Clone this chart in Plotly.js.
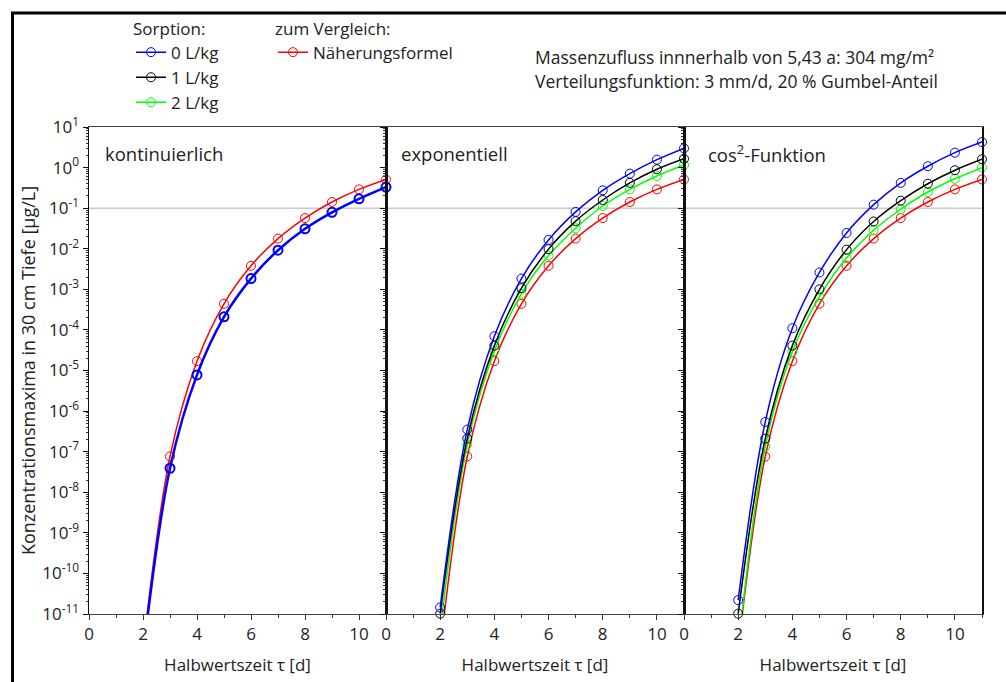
<!DOCTYPE html>
<html>
<head>
<meta charset="utf-8">
<script src="https://cdn.plot.ly/plotly-3.0.1.min.js"></script>
<style>html,body{margin:0;padding:0;background:#fff;}#chart{width:1006px;height:682px;}</style>
</head>
<body>
<div id="chart"></div>
<script>
// ---- data ----
var tau = [2, 3, 4, 5, 6, 7, 8, 9, 10, 11];
// Näherungsformel (same in every panel)
var naeherung = [1.3e-12, 7.6e-8, 1.7e-5, 4.4e-4, 3.8e-3, 0.0178, 0.057, 0.142, 0.29, 0.51];
// kontinuierlich (all sorption values coincide)
var kontSorption = [1.0e-12, 3.9e-8, 7.8e-6, 2.1e-4, 1.84e-3, 9.2e-3, 0.031, 0.079, 0.17, 0.33];
// exponentiell
var expS0 = [1.45e-11, 3.5e-7, 7.0e-5, 1.84e-3, 0.0165, 0.081, 0.275, 0.71, 1.57, 2.98];
var expS1 = [1.02e-11, 2.1e-7, 4.1e-5, 1.07e-3, 9.8e-3, 0.048, 0.159, 0.42, 0.91, 1.65];
var expS2 = [4.0e-12, 1.5e-7, 3.0e-5, 7.8e-4, 6.8e-3, 0.032, 0.113, 0.29, 0.62, 1.16];
// cos²-Funktion
var cosS0 = [2.2e-11, 5.4e-7, 1.1e-4, 2.6e-3, 0.0245, 0.122, 0.42, 1.08, 2.33, 4.26];
var cosS1 = [1.02e-11, 2.1e-7, 4.1e-5, 1.0e-3, 9.5e-3, 0.047, 0.153, 0.40, 0.86, 1.6];
var cosS2 = [1.4e-12, 1.35e-7, 2.9e-5, 6.6e-4, 5.9e-3, 0.0285, 0.094, 0.25, 0.53, 1.0];

var seriesNames = ['0 L/kg', '1 L/kg', '2 L/kg', 'Näherungsformel'];
var panelTitles = ['kontinuierlich', 'exponentiell', 'cos<sup>2</sup>-Funktion'];
var xTickVals = [0, 2, 4, 6, 8, 10];
var xTickText = ['0', '2', '4', '6', '8', '10'];
var yTickVals = [1e1, 1e0, 1e-1, 1e-2, 1e-3, 1e-4, 1e-5, 1e-6, 1e-7, 1e-8, 1e-9, 1e-10, 1e-11];
var yTickText = ['10<sup>1</sup>', '10<sup>0</sup>', '10<sup>-1</sup>', '10<sup>-2</sup>', '10<sup>-3</sup>',
  '10<sup>-4</sup>', '10<sup>-5</sup>', '10<sup>-6</sup>', '10<sup>-7</sup>', '10<sup>-8</sup>',
  '10<sup>-9</sup>', '10<sup>-10</sup>', '10<sup>-11</sup>'];
var xTitle = 'Halbwertszeit τ [d]';
var yTitle = 'Konzentrationsmaxima in 30 cm Tiefe [µg/L]';
var infoLines = ['Massenzufluss innnerhalb von 5,43 a: 304 mg/m²', 'Verteilungsfunktion: 3 mm/d, 20 % Gumbel-Anteil'];

// ---- styling ----
var FONT = 'Open Sans, Noto Sans, sans-serif';
var TXT = '#222';
var colors = {s0: '#0000ff', s1: '#000000', s2: '#00ff00', ref: '#ff0000'};

function tr(y, color, xa, ya, opts) {
  opts = opts || {};
  return {
    x: tau, y: y, xaxis: xa, yaxis: ya, type: 'scatter', mode: 'lines+markers',
    line: {color: color, width: opts.lw || 1.5, shape: 'spline', smoothing: 1},
    marker: {symbol: 'circle-open', size: 9, color: color, line: {color: color, width: opts.mw || 1}},
    cliponaxis: false, hoverinfo: 'skip',
    name: opts.name || '', showlegend: !!opts.legend, legend: opts.legendId || 'legend',
    legendgroup: opts.group || undefined, legendrank: opts.rank || 1000
  };
}

var data = [
  // panel 1
  tr(naeherung, colors.ref, 'x', 'y'),
  tr(kontSorption, colors.s0, 'x', 'y', {lw: 2.5, mw: 2}),
  // panel 2
  tr(naeherung, colors.ref, 'x2', 'y2', {legend: true, legendId: 'legend2', name: seriesNames[3], group: 'g4', rank: 4}),
  tr(expS2, colors.s2, 'x2', 'y2', {legend: true, name: seriesNames[2], group: 'g3', rank: 3}),
  tr(expS1, colors.s1, 'x2', 'y2', {legend: true, name: seriesNames[1], group: 'g2', rank: 2}),
  tr(expS0, colors.s0, 'x2', 'y2', {legend: true, name: seriesNames[0], group: 'g1', rank: 1}),
  // panel 3
  tr(naeherung, colors.ref, 'x3', 'y3'),
  tr(cosS2, colors.s2, 'x3', 'y3'),
  tr(cosS1, colors.s1, 'x3', 'y3'),
  tr(cosS0, colors.s0, 'x3', 'y3')
];

// plot area: x 89..982, y 127..614
var L = 89, R = 982, T = 127, B = 614, W = 1006, H = 682;
function px(x) { return (x - L) / (R - L); }
function py(y) { return (B - y) / (B - T); }
var d1 = [0, px(386)], d2 = [px(386), px(684)], d3 = [px(684), 1];

function xax(dom, anchor) {
  return {
    domain: dom, anchor: anchor, range: [0, 11], tickmode: 'array', tickvals: xTickVals, ticktext: xTickText,
    ticks: 'outside', ticklen: 5, tickwidth: 1, tickcolor: '#333',
    minor: {tickmode: 'linear', tick0: 1, dtick: 2, ticks: 'outside', ticklen: 3, tickwidth: 1, tickcolor: '#333'},
    showline: true, linecolor: '#444', linewidth: 1, mirror: true, showgrid: false, zeroline: false,
    tickfont: {family: FONT, size: 17, color: TXT},
    title: {text: xTitle, font: {family: FONT, size: 17, color: TXT}, standoff: 14},
    fixedrange: true
  };
}
function yax(anchor, labels) {
  var a = {
    domain: [0, 1], anchor: anchor, type: 'log', range: [-11, 1], tickmode: 'array', tickvals: yTickVals, ticktext: yTickText,
    ticks: 'outside', ticklen: 5, tickwidth: 1, tickcolor: '#111',
    minor: {dtick: 'D1', ticks: 'outside', ticklen: 2, tickwidth: 1, tickcolor: '#333'},
    showline: true, linecolor: '#111', linewidth: 1.5, mirror: true, showgrid: false, zeroline: false,
    showticklabels: labels, tickfont: {family: FONT, size: 17, color: TXT}, fixedrange: true
  };
  if (labels) a.title = {text: yTitle, font: {family: FONT, size: 18, color: TXT}, standoff: 2};
  return a;
}

var annotations = [];
var lefts = [103, 399, 706];
for (var i = 0; i < 3; i++) {
  annotations.push({text: panelTitles[i], xref: 'paper', yref: 'paper', x: px(lefts[i]), y: py(153),
    xanchor: 'left', yanchor: 'middle', showarrow: false, font: {family: FONT, size: 18.5, color: TXT}});
}
annotations.push({text: infoLines[0], xref: 'paper', yref: 'paper', x: px(533), y: py(57), xanchor: 'left', yanchor: 'middle',
  showarrow: false, font: {family: FONT, size: 17.5, color: TXT}});
annotations.push({text: infoLines[1], xref: 'paper', yref: 'paper', x: px(533), y: py(81), xanchor: 'left', yanchor: 'middle',
  showarrow: false, font: {family: FONT, size: 17.5, color: TXT}});

var shapes = [
  // reference line at 0.1 µg/L
  {type: 'line', xref: 'paper', yref: 'y', x0: 0, x1: 1, y0: 0.1, y1: 0.1, line: {color: '#b0b0b0', width: 1}, layer: 'below'},
  // outer frame (left and top edges visible)
  {type: 'line', xref: 'paper', yref: 'paper', x0: px(12.5), x1: px(12.5), y0: py(12), y1: py(700), line: {color: '#000', width: 3}},
  {type: 'line', xref: 'paper', yref: 'paper', x0: px(11), x1: px(1010), y0: py(13), y1: py(13), line: {color: '#000', width: 3}}
];

var legendFont = {family: FONT, size: 17, color: TXT};
var layout = {
  width: W, height: H,
  margin: {l: L, r: W - R, t: T, b: H - B, pad: 0},
  paper_bgcolor: '#fff', plot_bgcolor: '#fff',
  font: {family: FONT, color: TXT},
  xaxis: xax(d1, 'y'), xaxis2: xax(d2, 'y2'), xaxis3: xax(d3, 'y3'),
  yaxis: yax('x', true), yaxis2: yax('x2', false), yaxis3: yax('x3', false),
  legend: {x: px(131), y: py(12.5), xanchor: 'left', yanchor: 'top', bgcolor: 'rgba(0,0,0,0)', borderwidth: 0,
    title: {text: 'Sorption:', font: legendFont, side: 'top'},
    font: legendFont, tracegroupgap: 1, traceorder: 'normal'},
  legend2: {x: px(273), y: py(12.5), xanchor: 'left', yanchor: 'top', bgcolor: 'rgba(0,0,0,0)', borderwidth: 0,
    title: {text: 'zum Vergleich:', font: legendFont, side: 'top'},
    font: legendFont, tracegroupgap: 1},
  annotations: annotations,
  shapes: shapes,
  hovermode: false
};

Plotly.newPlot('chart', data, layout, {displayModeBar: false, staticPlot: true});
</script>
</body>
</html>
